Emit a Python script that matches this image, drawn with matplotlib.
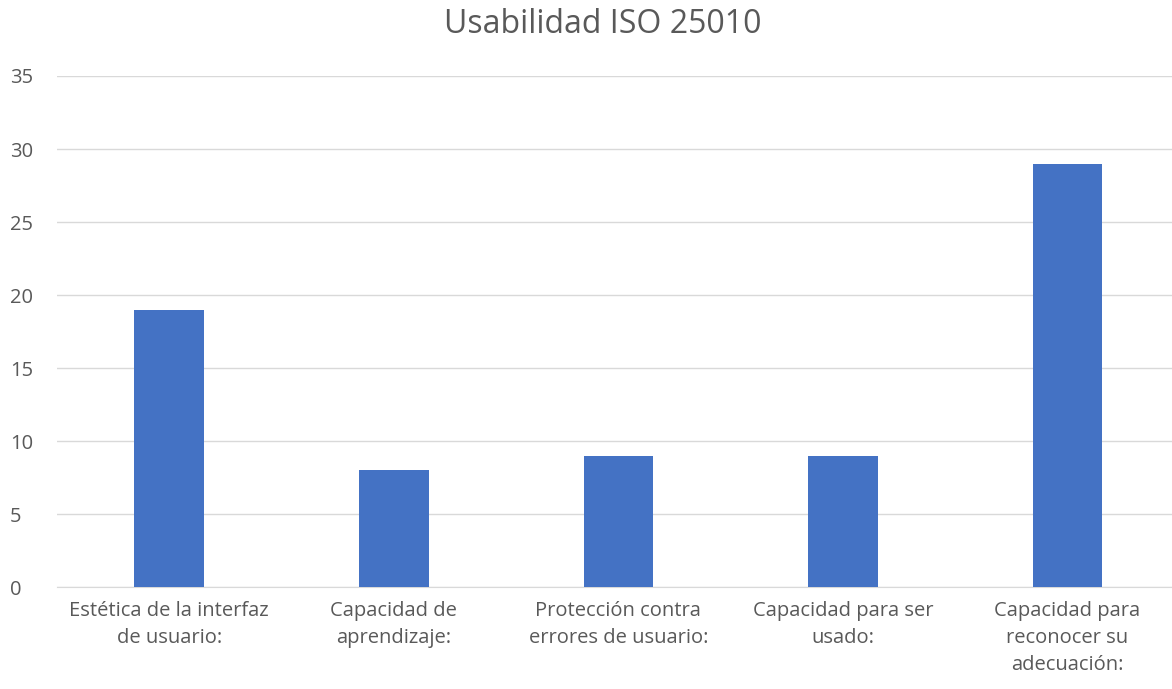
import matplotlib.pyplot as plt

# ----------------------------------------
# DATA
# ----------------------------------------
categories = [
    "Estética de la interfaz\nde usuario:",
    "Capacidad de\naprendizaje:",
    "Protección contra\nerrores de usuario:",
    "Capacidad para ser\nusado:",
    "Capacidad para\nreconocer su\nadecuación:",
]
values = [19, 8, 9, 9, 29]
yticks = [0, 5, 10, 15, 20, 25, 30, 35]

TEXT = "#595959"
GRID = "#d9d9d9"
BAR = "#4472C4"

plt.rcParams["font.family"] = ["Open Sans", "DejaVu Sans"]

fig = plt.figure(figsize=(11.72, 6.89), dpi=100)
ax = fig.add_axes([0.0486, 0.148, 0.958, 0.7417])

x = range(len(categories))
ax.bar(x, values, width=0.31, color=BAR, zorder=3)

ax.set_xlim(-0.5, len(categories) - 0.5)
ax.set_ylim(0, 35)
ax.set_yticks(yticks)
ax.set_xticks(list(x))
ax.set_xticklabels(categories, color=TEXT, fontsize=14.5, linespacing=1.48)
ax.tick_params(axis="y", colors=TEXT, labelsize=14.5, length=0, pad=34)
ax.tick_params(axis="x", length=0, pad=10)
for lbl in ax.get_yticklabels():
    lbl.set_horizontalalignment("left")

ax.grid(axis="y", color=GRID, linewidth=1, zorder=0)
for s in ["top", "right", "left"]:
    ax.spines[s].set_visible(False)
ax.spines["bottom"].set_color(GRID)

fig.text(0.514, 0.965, "Usabilidad ISO 25010", ha="center", va="center",
         fontsize=23, color=TEXT)

fig.savefig("out.png", dpi=100)
